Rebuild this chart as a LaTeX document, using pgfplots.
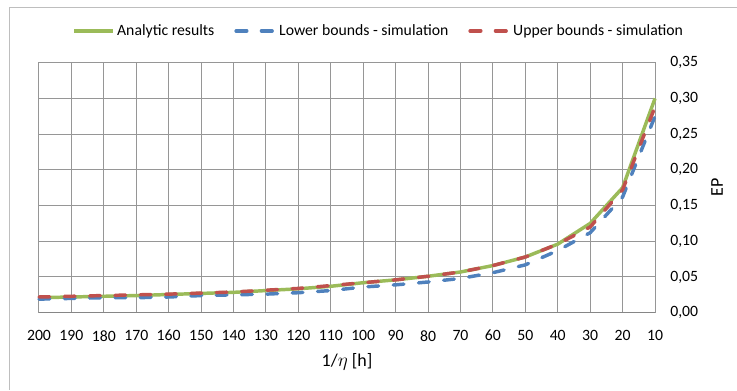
\documentclass[border=0pt]{standalone}
\usepackage{pgfplots}
\pgfplotsset{compat=1.18}
\usepackage{fontspec}
\setmainfont{Carlito}
\definecolor{cgreen}{HTML}{9BBB59}
\definecolor{cblue}{HTML}{4F81BD}
\definecolor{cred}{HTML}{C0504D}
\definecolor{gridc}{RGB}{150,150,150}
\definecolor{axisc}{RGB}{134,134,134}
\definecolor{borderc}{RGB}{190,190,190}
\begin{document}
\begin{tikzpicture}
\path[use as bounding box] (0pt,0pt) rectangle (552.75pt,292.5pt);
\draw[borderc, line width=0.75pt] (7.1pt,0pt) -- (7.1pt,287.2pt) -- (552.75pt,287.2pt);
\begin{axis}[
  at={(29.25pt,57.975pt)}, anchor=south west,
  scale only axis, width=462pt, height=187.5pt,
  xmin=0, xmax=19, ymin=0, ymax=0.35,
  xtick={0,...,19},
  xticklabels={200,190,180,170,160,150,140,130,120,110,100,90,80,70,60,50,40,30,20,10},
  ytick={0,0.05,0.1,0.15,0.2,0.25,0.3,0.35},
  yticklabel pos=right,
  grid=major,
  major grid style={gridc, line width=0.75pt},
  axis line style={gridc, line width=0.75pt},
  major tick length=0pt,
  tick label style={font=\fontsize{11.8}{14}\selectfont, text=black},
  /pgf/number format/assume math mode=true,
  yticklabel style={/pgf/number format/.cd, fixed, fixed zerofill, precision=2, use comma, /tikz/.cd, inner sep=0pt, anchor=west, xshift=11.25pt},
  xticklabel style={inner sep=0pt, anchor=north, yshift=-13pt},
  xlabel={1/$\eta$ [h]},
  xlabel style={at={(axis description cs:0.5,0)}, anchor=center, yshift=-36.6pt, font=\fontsize{13.5}{16}\selectfont},
  ylabel={EP},
  ylabel style={at={(axis description cs:1.1006,0.5)}, anchor=center, font=\fontsize{13.5}{16}\selectfont},
  legend columns=3,
  legend style={at={(axis description cs:0.552,1.127)}, anchor=center, draw=none, fill=none,
    font=\fontsize{11.8}{14}\selectfont,
    /tikz/every even column/.append style={column sep=13pt}},
  legend image code/.code={\draw[#1] (0pt,0pt) -- (29pt,0pt);},
  clip=false,
]
\addplot[cgreen, line width=2.6pt, line join=round] coordinates {
(0,0.021)(1,0.022)(2,0.023)(3,0.024)(4,0.0255)(5,0.027)(6,0.0285)(7,0.031)(8,0.0335)(9,0.037)
(10,0.042)(11,0.046)(12,0.051)(13,0.057)(14,0.066)(15,0.078)(16,0.096)(17,0.125)(18,0.175)(19,0.300)};
\addlegendentry{Analytic results}
\addplot[cblue, line width=2.6pt, line cap=round, dash pattern=on 8pt off 11pt] coordinates {
(0,0.019)(1,0.020)(2,0.021)(3,0.021)(4,0.022)(5,0.024)(6,0.025)(7,0.026)(8,0.028)(9,0.031)
(10,0.036)(11,0.039)(12,0.043)(13,0.048)(14,0.056)(15,0.067)(16,0.087)(17,0.112)(18,0.162)(19,0.275)};
\addlegendentry{Lower bounds - simulation}
\addplot[cred, line width=2.6pt, line cap=round, dash pattern=on 8pt off 11pt] coordinates {
(0,0.022)(1,0.023)(2,0.024)(3,0.025)(4,0.026)(5,0.0275)(6,0.029)(7,0.0315)(8,0.034)(9,0.038)
(10,0.042)(11,0.046)(12,0.051)(13,0.057)(14,0.066)(15,0.078)(16,0.096)(17,0.120)(18,0.172)(19,0.288)};
\addlegendentry{Upper bounds - simulation}
\draw[axisc, line width=1pt] (rel axis cs:0,0) -- (rel axis cs:1,0);
\end{axis}
\end{tikzpicture}
\end{document}
